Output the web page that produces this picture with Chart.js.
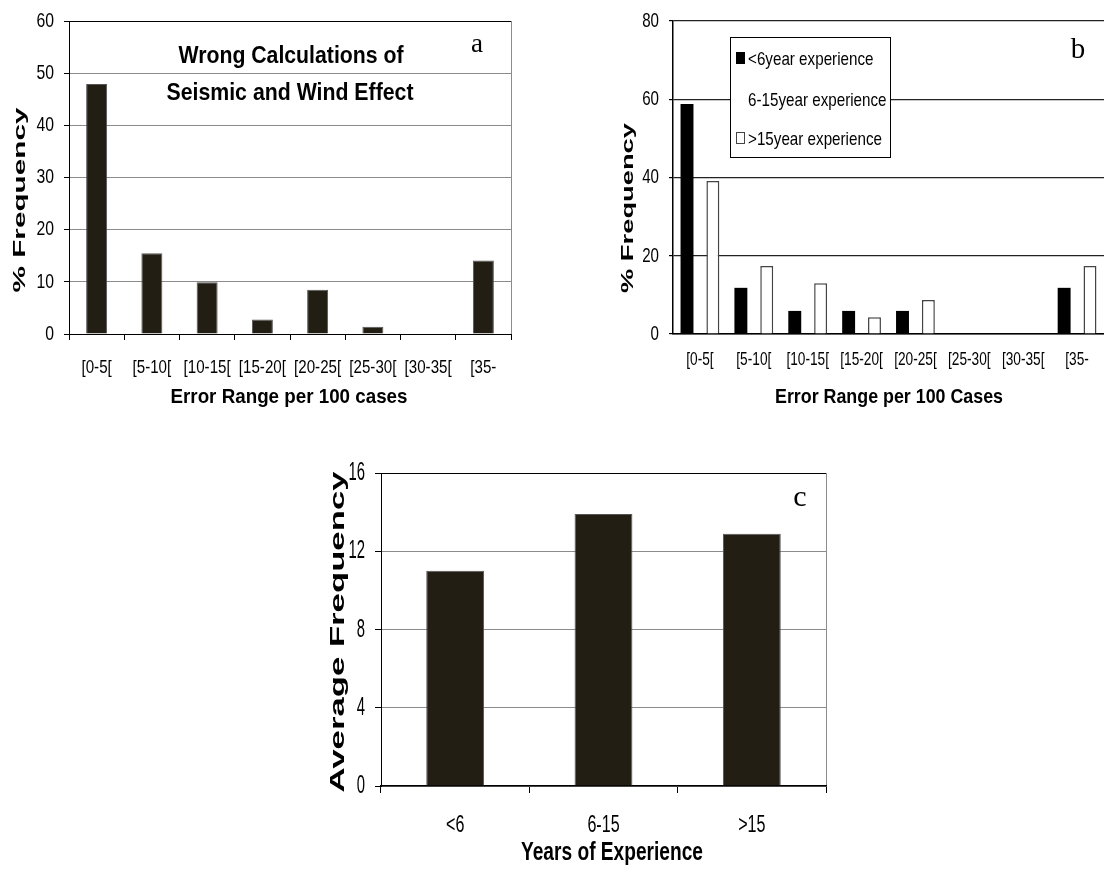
<!DOCTYPE html>
<html>
<head>
<meta charset="utf-8">
<script src="https://cdn.jsdelivr.net/npm/chart.js@4.4.1/dist/chart.umd.min.js"></script>
<style>
  html, body { margin: 0; padding: 0; background: #fff; width: 1104px; height: 875px; overflow: hidden; }
  .box { position: absolute; }
</style>
</head>
<body>
<div class="box" style="left:0;top:0;width:530px;height:420px"><canvas id="chartA"></canvas></div>
<div class="box" style="left:560px;top:0;width:544px;height:420px"><canvas id="chartB"></canvas></div>
<div class="box" style="left:290px;top:440px;width:560px;height:435px"><canvas id="chartC"></canvas></div>
<script>
// error ranges (per 100 cases)
const rangeLabels = ['[0-5[', '[5-10[', '[10-15[', '[15-20[', '[20-25[', '[25-30[', '[30-35[', '[35-'];
// (a) wrong calculations of seismic and wind effect, % frequency
const wrongCalcPct = [47.9, 15.5, 9.9, 2.8, 8.5, 1.4, 0, 14.1];
// (b) by experience
const expLabels = ['<6year experience', '6-15year experience', '>15year experience'];
const under6Pct = [58.8, 11.8, 5.9, 5.9, 5.9, 0, 0, 11.8];
const mid6to15Pct = [0, 0, 0, 0, 0, 0, 0, 0];
const over15Pct = [39.1, 17.4, 13.0, 4.3, 8.7, 0, 0, 17.4];
// (c) average frequency
const yearGroups = ['<6', '6-15', '>15'];
const avgFrequency = [11, 13.9, 12.9];

const SANS = '"Liberation Sans", Arial, sans-serif';
const SERIF = '"Liberation Serif", "Times New Roman", serif';
const BAR = '#221e14';
const GRID = '#8c8c8c';

// no Arial Narrow here, so squeeze the text horizontally
function drawText(ctx, t) {
  ctx.save();
  ctx.font = t.font;
  ctx.fillStyle = '#000';
  ctx.textAlign = t.align || 'center';
  ctx.textBaseline = t.base || 'alphabetic';
  const w = ctx.measureText(t.text).width;
  ctx.translate(t.x, t.y);
  if (t.rot) ctx.rotate(t.rot);
  const sx = t.width ? t.width / w : (t.sx || 1);
  ctx.scale(sx, 1);
  ctx.fillText(t.text, 0, 0);
  ctx.restore();
}

function notes(items) {
  return {
    id: 'notes',
    afterDraw(chart) {
      items.forEach(t => drawText(chart.ctx, t));
    }
  };
}

// tick labels taken from the chart's own scales, drawn condensed
function narrowTicks(cfg) {
  return {
    id: 'narrowTicks',
    afterDraw(chart) {
      const ctx = chart.ctx, area = chart.chartArea;
      const xs = chart.scales.x, ys = chart.scales.y;
      xs.ticks.forEach((tk, i) => {
        drawText(ctx, { text: String(tk.label), x: xs.getPixelForTick(i), y: area.bottom + cfg.x.dy,
          font: cfg.x.font, sx: cfg.x.sx });
      });
      ys.ticks.forEach((tk, i) => {
        drawText(ctx, { text: String(tk.label), x: area.left - cfg.y.dx, y: ys.getPixelForTick(i),
          font: cfg.y.font, sx: cfg.y.sx, align: 'right', base: 'middle' });
      });
    }
  };
}

// legend box inside plot of chart b
const boxLegend = {
  id: 'boxLegend',
  afterDraw(chart) {
    const ctx = chart.ctx;
    ctx.save();
    ctx.fillStyle = '#fff';
    ctx.strokeStyle = '#000';
    ctx.lineWidth = 1;
    ctx.fillRect(170, 37, 160, 120);
    ctx.strokeRect(170.5, 37.5, 160, 120);
    const rows = [58, 99, 138];
    chart.data.datasets.forEach((ds, i) => {
      const y = rows[i];
      ctx.fillStyle = ds.backgroundColor;
      ctx.fillRect(176, y - 6, 9, 12);
      if (ds.borderWidth) {
        ctx.strokeStyle = ds.borderColor;
        ctx.lineWidth = 1;
        ctx.strokeRect(176.5, y - 5.5, 8, 11);
      }
      drawText(ctx, { text: ds.label, x: 188, y: y + 7, font: '19px ' + SANS, sx: 0.8, align: 'left' });
    });
    ctx.restore();
  }
};

function fixWidth(w) { return s => { s.width = w; }; }
function fixHeight(h) { return s => { s.height = h; }; }

// ---- chart a ----
new Chart(document.getElementById('chartA'), {
  type: 'bar',
  data: {
    labels: rangeLabels,
    datasets: [{
      data: wrongCalcPct,
      backgroundColor: BAR,
      borderColor: '#555',
      borderWidth: 1,
      categoryPercentage: 0.38,
      barPercentage: 1
    }]
  },
  options: {
    responsive: true,
    maintainAspectRatio: false,
    animation: false,
    layout: { padding: { top: 21, right: 19, left: 0, bottom: 0 } },
    plugins: { legend: { display: false }, tooltip: { enabled: false } },
    scales: {
      x: {
        afterFit: fixHeight(86),
        border: { color: '#000', width: 1 },
        grid: {
          offset: true,
          color: c => c.type === 'scale' ? GRID : 'rgba(0,0,0,0)',
          tickColor: '#000',
          tickLength: 6
        },
        ticks: { display: false, autoSkip: false }
      },
      y: {
        min: 0, max: 60,
        afterFit: fixWidth(69),
        border: { color: '#000', width: 1 },
        grid: {
          color: c => c.tick && c.tick.value === 60 ? '#000' : GRID,
          tickColor: '#000',
          tickLength: 5
        },
        ticks: { stepSize: 10, display: false }
      }
    }
  },
  plugins: [
    narrowTicks({ x: { dy: 39, font: '18px ' + SANS, sx: 0.84 }, y: { dx: 15, font: '21px ' + SANS, sx: 0.75 } }),
    notes([
      { text: '% Frequency', x: 25, y: 200, rot: -Math.PI / 2, font: 'bold 17px ' + SANS, width: 185 },
      { text: 'Error Range per 100 cases', x: 289, y: 403, font: 'bold 21px ' + SANS, width: 237 },
      { text: 'Wrong Calculations of', x: 291, y: 63, font: 'bold 23px ' + SANS, width: 225 },
      { text: 'Seismic and Wind Effect', x: 290, y: 100, font: 'bold 23px ' + SANS, width: 247 },
      { text: 'a', x: 477, y: 52, font: '27px ' + SERIF }
    ])
  ]
});

// ---- chart b ----
new Chart(document.getElementById('chartB'), {
  type: 'bar',
  data: {
    labels: rangeLabels,
    datasets: [
      { label: expLabels[0], data: under6Pct, backgroundColor: '#000', borderColor: '#000', borderWidth: 0 },
      { label: expLabels[1], data: mid6to15Pct, backgroundColor: '#fff', borderColor: '#fff', borderWidth: 0 },
      { label: expLabels[2], data: over15Pct, backgroundColor: '#fff', borderColor: '#444', borderWidth: 1.5 }
    ]
  },
  options: {
    responsive: true,
    maintainAspectRatio: false,
    animation: false,
    layout: { padding: { top: 21, right: 0, left: 0, bottom: 0 } },
    datasets: { bar: { categoryPercentage: 0.72, barPercentage: 1 } },
    plugins: { legend: { display: false }, tooltip: { enabled: false } },
    scales: {
      x: {
        afterFit: fixHeight(86),
        border: { color: '#000', width: 1.5 },
        grid: { display: false, drawTicks: false },
        ticks: { display: false, autoSkip: false }
      },
      y: {
        min: 0, max: 80,
        afterFit: fixWidth(113),
        border: { color: '#000', width: 1.5 },
        grid: { color: '#222', lineWidth: 1.2, tickColor: '#000', tickLength: 4 },
        ticks: { stepSize: 20, display: false }
      }
    }
  },
  plugins: [
    narrowTicks({ x: { dy: 31, font: '18px ' + SANS, sx: 0.76 }, y: { dx: 14, font: '21px ' + SANS, sx: 0.72 } }),
    boxLegend,
    notes([
      { text: '% Frequency', x: 73, y: 208, rot: -Math.PI / 2, font: 'bold 17px ' + SANS, width: 170 },
      { text: 'Error Range per 100 Cases', x: 329, y: 403, font: 'bold 21px ' + SANS, width: 228 },
      { text: 'b', x: 518, y: 58, font: '29px ' + SERIF }
    ])
  ]
});

// ---- chart c ----
new Chart(document.getElementById('chartC'), {
  type: 'bar',
  data: {
    labels: yearGroups,
    datasets: [{
      data: avgFrequency,
      backgroundColor: BAR,
      borderColor: '#555',
      borderWidth: 1,
      categoryPercentage: 0.39,
      barPercentage: 1
    }]
  },
  options: {
    responsive: true,
    maintainAspectRatio: false,
    animation: false,
    layout: { padding: { top: 33, right: 24, left: 0, bottom: 0 } },
    plugins: { legend: { display: false }, tooltip: { enabled: false } },
    scales: {
      x: {
        afterFit: fixHeight(89),
        border: { color: '#000', width: 1.5 },
        grid: {
          offset: true,
          color: c => c.type === 'scale' ? GRID : 'rgba(0,0,0,0)',
          tickColor: '#000',
          tickLength: 7
        },
        ticks: { display: false, autoSkip: false }
      },
      y: {
        min: 0, max: 16,
        afterFit: fixWidth(91),
        border: { color: '#000', width: 1 },
        grid: {
          color: c => c.tick && c.tick.value === 16 ? '#000' : GRID,
          tickColor: '#000',
          tickLength: 6
        },
        ticks: { stepSize: 4, display: false }
      }
    }
  },
  plugins: [
    narrowTicks({ x: { dy: 46, font: '23px ' + SANS, sx: 0.7 }, y: { dx: 16, font: '26px ' + SANS, sx: 0.57 } }),
    notes([
      { text: 'Average Frequency', x: 54, y: 192, rot: -Math.PI / 2, font: 'bold 21px ' + SANS, width: 321 },
      { text: 'Years of Experience', x: 322, y: 420, font: 'bold 25px ' + SANS, width: 182 },
      { text: 'c', x: 510, y: 66, font: '30px ' + SERIF }
    ])
  ]
});
</script>
</body>
</html>
